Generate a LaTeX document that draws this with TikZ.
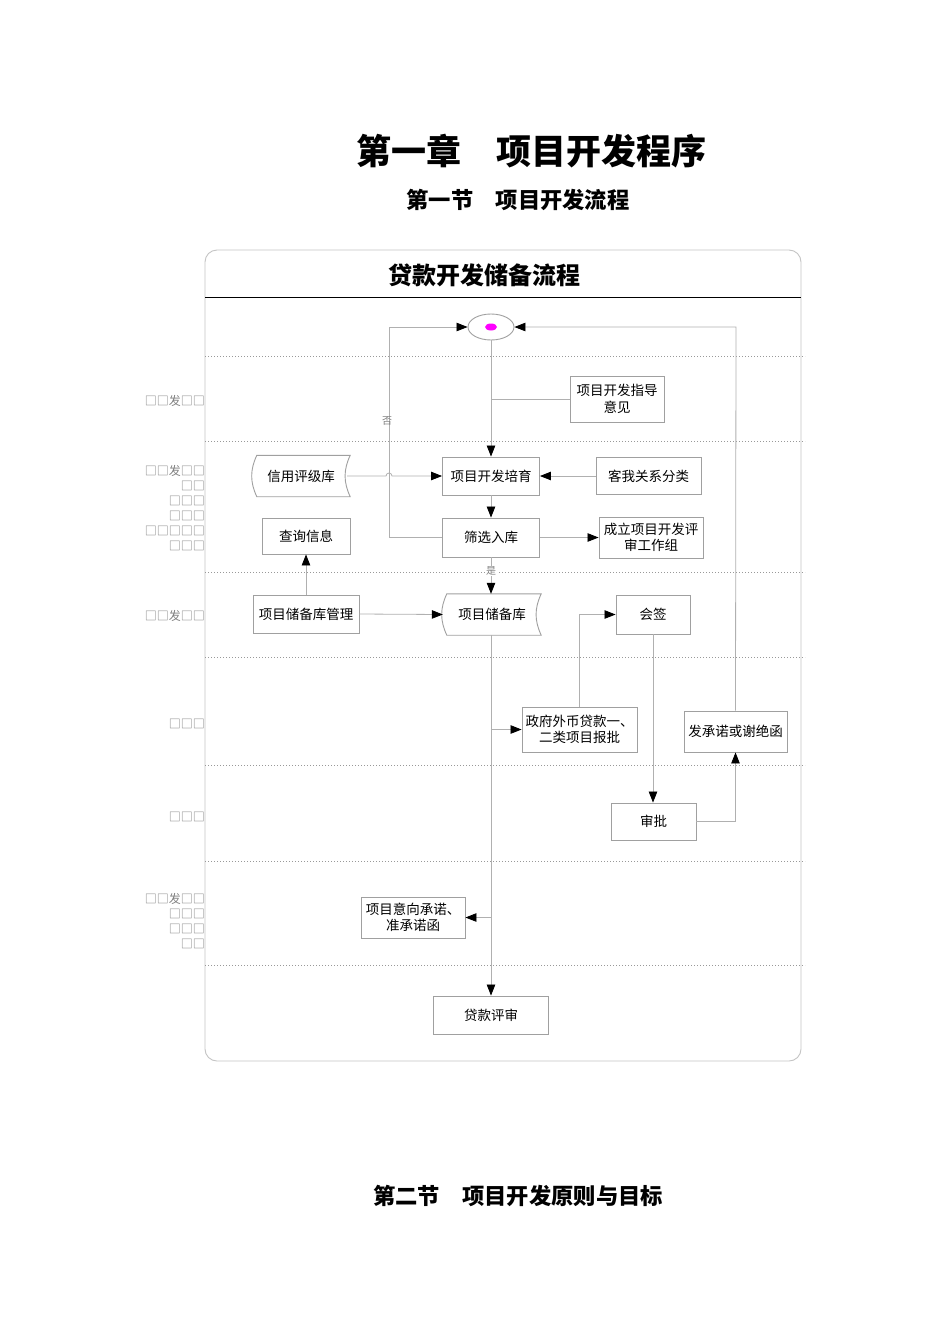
\documentclass[tikz,border=0pt]{standalone}
\usepackage{fontspec}
\setmainfont{Noto Sans CJK SC}
\usetikzlibrary{arrows.meta,shapes.geometric}
\definecolor{boxgray}{HTML}{A0A0A0}
\definecolor{linegray}{HTML}{B0B0B0}
\definecolor{labgray}{HTML}{808080}
\definecolor{framegray}{HTML}{C4C4C4}
\definecolor{startpink}{HTML}{FF00FF}
\begin{document}
\begin{tikzpicture}[x=1pt,y=-1pt,
 box/.style={draw=boxgray,line width=0.9pt,fill=white,inner sep=1pt,align=center,font=\fontsize{13.5}{16.5}\selectfont},
 tapebox/.style={inner sep=1pt,align=center,font=\fontsize{13.5}{16.5}\selectfont},
 conn/.style={draw=linegray,line width=0.8pt},
 arr/.style={conn,-{Triangle[black,length=11pt,width=8.5pt]}},
 lane/.style={draw=gray!80,line width=0.8pt,dash pattern=on 0.8pt off 2.2pt},
 lab/.style={anchor=east,text=labgray,font=\fontsize{12}{15}\selectfont,inner sep=0pt},
 note/.style={text=labgray,font=\fontsize{10}{12}\selectfont,inner sep=0.5pt}
]
\useasboundingbox (0,0) rectangle (950,1344);
\fill[white] (0,0) rectangle (950,1344);

% headings
\node[font=\fontsize{35}{40}\selectfont\bfseries] (h1) at (531,151) {第一章　项目开发程序};
\node[font=\fontsize{22.3}{26}\selectfont\bfseries] (h2) at (518,200) {第一节　项目开发流程};
\node[font=\fontsize{22.3}{26}\selectfont\bfseries] (h3) at (518,1196) {第二节　项目开发原则与目标};

% frame
\draw[framegray,line width=0.9pt,rounded corners=12pt] (205,250) rectangle (801,1061);
\draw[black,line width=1pt] (205,297) -- (801,297);
\node[font=\fontsize{24}{28}\selectfont\bfseries] (title) at (484,275) {贷款开发储备流程};

% lanes
\foreach \yy in {356,441,572,657,765,861,965} \draw[lane] (205,\yy) -- (805,\yy);

% left labels
\node[lab] (la1) at (205,401) {□□发□□};
\node[lab] (lb1) at (205,471) {□□发□□};
\node[lab] (lb2) at (205,486) {□□};
\node[lab] (lb3) at (205,501) {□□□};
\node[lab] (lb4) at (205,516) {□□□};
\node[lab] (lb5) at (205,531) {□□□□□};
\node[lab] (lb6) at (205,546) {□□□};
\node[lab] (lc1) at (205,616) {□□发□□};
\node[lab] (ld1) at (205,724) {□□□};
\node[lab] (le1) at (205,817) {□□□};
\node[lab] (lf1) at (205,899) {□□发□□};
\node[lab] (lf2) at (205,914) {□□□};
\node[lab] (lf3) at (205,929) {□□□};
\node[lab] (lf4) at (205,944) {□□};

% start
\node[draw=boxgray,line width=0.9pt,fill=white,ellipse,minimum width=46pt,minimum height=26pt,inner sep=0pt] (st) at (491,327) {};
\fill[startpink] (st.center) ellipse[x radius=6pt,y radius=3.5pt];

% boxes
\node[box,minimum width=94pt,minimum height=46pt] (zd) at (617,399) {项目开发指导\\意见};
\node[box,minimum width=97pt,minimum height=38pt] (py) at (491,476) {项目开发培育};
\node[box,minimum width=105pt,minimum height=37pt] (kw) at (648.5,476) {客我关系分类};
\node[tapebox,minimum width=98pt,minimum height=41pt] (xy) at (301,476) {信用评级库};
\draw[boxgray,line width=0.9pt,fill=white] ([xshift=5pt]xy.north west) -- (xy.north east) to[bend right=25] (xy.south east) -- ([xshift=5pt]xy.south west) to[bend left=25] ([xshift=5pt]xy.north west) -- cycle;
\node[tapebox] at (xy.center) {信用评级库};
\node[box,minimum width=97pt,minimum height=39pt] (sx) at (491,537.5) {筛选入库};
\node[box,minimum width=104pt,minimum height=41pt] (cl) at (651,537.5) {成立项目开发评\\审工作组};
\node[box,minimum width=88pt,minimum height=36pt] (cx) at (306,536) {查询信息};
\node[box,minimum width=106pt,minimum height=38pt] (gl) at (306,614) {项目储备库管理};
\node[tapebox,minimum width=98pt,minimum height=41pt] (cb) at (492,614.5) {项目储备库};
\draw[boxgray,line width=0.9pt,fill=white] ([xshift=4pt]cb.north west) -- (cb.north east) to[bend right=25] (cb.south east) -- ([xshift=4pt]cb.south west) to[bend left=25] ([xshift=4pt]cb.north west) -- cycle;
\node[tapebox] at (cb.center) {项目储备库};
\node[box,minimum width=74pt,minimum height=39pt] (hq) at (653,614.5) {会签};
\node[box,minimum width=115pt,minimum height=45pt] (zf) at (579.5,729.5) {政府外币贷款一、\\二类项目报批};
\node[box,minimum width=103pt,minimum height=41pt] (fc) at (735.5,731.5) {发承诺或谢绝函};
\node[box,minimum width=85pt,minimum height=37pt] (sp) at (653.5,821.5) {审批};
\node[box,minimum width=104pt,minimum height=41pt] (yx) at (413,917.5) {项目意向承诺、\\准承诺函};
\node[box,minimum width=115pt,minimum height=38pt] (dk) at (491,1015) {贷款评审};

% connectors
\coordinate (jl) at (389,537.5);
\coordinate (jr) at (736,327);
\draw[arr] (st.south) -- (py.north);
\draw[conn] (zd.west) -- (zd.west -| py.north);
\draw[arr] ([xshift=-3pt]xy.east) -- (386,476) arc[start angle=180,end angle=0,radius=3pt] -- (py.west);
\draw[arr] (kw.west) -- (py.east);
\draw[arr] (py.south) -- (sx.north);
\draw[arr] (sx.east) -- (cl.west);
\draw[arr] (sx.west) -- (jl) -- (jl |- st.west) -- (st.west);
\node[note] (fou) at (387,421) {否};
\draw[arr] (sx.south) -- (sx.south |- cb.north);
\node[note,fill=white] (shi) at (491,571) {是};
\draw[arr] (gl.north) -- (cx.south);
\draw[arr] (gl.east) -- (cb.west);
\draw[arr] (cb.south -| dk.north) -- (dk.north);
\draw[arr] (dk.north |- zf.west) -- (zf.west);
\draw[arr] (dk.north |- yx.east) -- (yx.east);
\draw[arr] (zf.north) -- (zf.north |- hq.west) -- (hq.west);
\draw[arr] (hq.south) -- (hq.south |- sp.north);
\draw[arr] (sp.east) -- (sp.east -| fc.south) -- (fc.south);
\draw[arr] (fc.north) -- (jr) -- (st.east);
\end{tikzpicture}
\end{document}
